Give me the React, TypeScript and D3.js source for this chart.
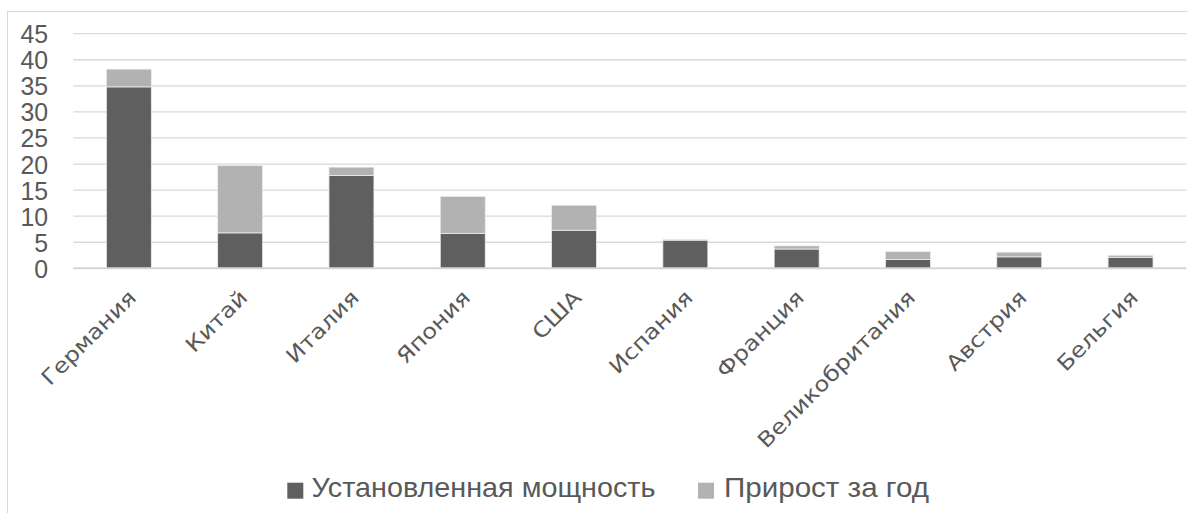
import React from "react";
import * as d3 from "d3";

const countries = [
  "Германия",
  "Китай",
  "Италия",
  "Япония",
  "США",
  "Испания",
  "Франция",
  "Великобритания",
  "Австрия",
  "Бельгия",
];
// Installed capacity and yearly growth, GW
const installed = [34.8, 6.8, 17.8, 6.7, 7.3, 5.4, 3.7, 1.7, 2.2, 2.1];
const growth = [3.4, 12.9, 1.6, 7.1, 4.8, 0.1, 0.6, 1.5, 0.9, 0.4];
const yTicks = [0, 5, 10, 15, 20, 25, 30, 35, 40, 45];
const seriesNames = ["Установленная мощность", "Прирост за год"];
const seriesColors = ["#5f5f5f", "#b2b2b2"];

const W = 1188;
const H = 513;
const plot = { left: 73.2, right: 1186.2, top: 33.7, bottom: 268.3 };

export default function App() {
  const x = d3
    .scaleBand<string>()
    .domain(countries)
    .range([plot.left, plot.right])
    .paddingInner(0.596)
    .paddingOuter(0.298);
  const y = d3.scaleLinear().domain([0, 45]).range([plot.bottom, plot.top]);

  const rows = countries.map((c, i) => ({ c, installed: installed[i], growth: growth[i] }));
  const stacked = d3.stack<any>().keys(["installed", "growth"])(rows);

  const legendItems = [
    { sq: 287.3, tx: 311.5, len: 344 },
    { sq: 698, tx: 724, len: 205 },
  ];

  return (
    <svg
      width={W}
      height={H}
      style={{ position: "absolute", left: 0, top: 0, background: "#fff" }}
    >
      <rect x={7.5} y={11.5} width={1200} height={520} fill="#fff" stroke="#d9d9d9" />
      {yTicks.map((t) => (
        <g key={t}>
          {t > 0 && (
            <line
              x1={plot.left}
              x2={plot.right}
              y1={y(t)}
              y2={y(t)}
              stroke="#d9d9d9"
              strokeWidth={1.3}
            />
          )}
          <text
            transform={`translate(48,${y(t) + 9.5}) scale(1.08,1.12)`}
            textAnchor="end"
            fontFamily="Liberation Sans, Arial, sans-serif"
            fontSize={23}
            fill="#595959"
          >
            {t}
          </text>
        </g>
      ))}
      {stacked.map((s, si) => (
        <g key={si} fill={seriesColors[si]}>
          {s.map((d, i) =>
            d[1] - d[0] > 0 ? (
              <rect
                key={i}
                x={x(countries[i])}
                width={x.bandwidth()}
                y={y(d[1])}
                height={y(d[0]) - y(d[1])}
                stroke="#ececec"
                strokeWidth={0.8}
              />
            ) : null
          )}
        </g>
      ))}
      <line
        x1={plot.left}
        x2={plot.right}
        y1={plot.bottom}
        y2={plot.bottom}
        stroke="#d4d4d4"
        strokeWidth={2}
      />
      {countries.map((c) => {
        const cx = (x(c) as number) + x.bandwidth() / 2 - 2;
        const cy = plot.bottom + 20;
        return (
          <text
            key={c}
            transform={`translate(${cx},${cy}) rotate(-45) scale(1.15,1)`}
            textAnchor="end"
            dy="0.72em"
            fontFamily="DejaVu Sans, sans-serif"
            fontSize={21}
            fill="#595959"
          >
            {c}
          </text>
        );
      })}
      {seriesNames.map((n, i) => (
        <g key={n}>
          <rect x={legendItems[i].sq} y={482.7} width={16} height={16} fill={seriesColors[i]} />
          <text
            transform={`translate(${legendItems[i].tx},497) scale(1,1.12)`}
            fontFamily="Liberation Sans, Arial, sans-serif"
            fontSize={24}
            fill="#595959"
            textLength={legendItems[i].len}
            lengthAdjust="spacingAndGlyphs"
          >
            {n}
          </text>
        </g>
      ))}
    </svg>
  );
}
